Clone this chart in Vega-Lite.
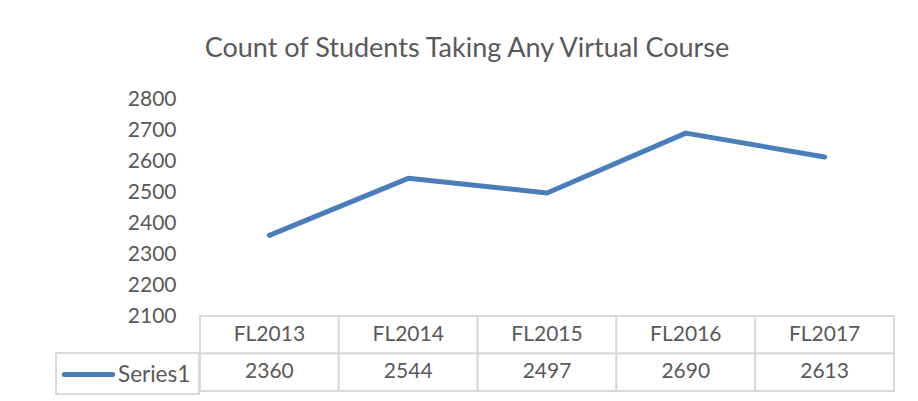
{
  "$schema": "https://vega.github.io/schema/vega-lite/v6.json",
  "padding": {"left": 55, "top": 35, "right": 0, "bottom": 0},
  "autosize": {"type": "pad"},
  "background": "white",
  "spacing": 0,
  "bounds": "flush",
  "title": {"text": "Count of Students Taking Any Virtual Course", "font": "Lato", "fontSize": 27, "fontWeight": "normal", "color": "#595959", "anchor": "middle", "frame": "bounds", "offset": 25, "dx": -8},
  "data": {"values": [
    {"year": "FL2013", "series": "Series1", "students": 2360},
    {"year": "FL2014", "series": "Series1", "students": 2544},
    {"year": "FL2015", "series": "Series1", "students": 2497},
    {"year": "FL2016", "series": "Series1", "students": 2690},
    {"year": "FL2017", "series": "Series1", "students": 2613}
  ]},
  "config": {"font": "Lato", "view": {"stroke": null}},
  "resolve": {"legend": {"color": "independent"}},
  "vconcat": [
    {
      "width": 694,
      "height": 217,
      "mark": {"type": "line", "strokeWidth": 5, "strokeCap": "round", "strokeJoin": "round"},
      "encoding": {
        "x": {"field": "year", "type": "ordinal", "sort": null, "scale": {"type": "point", "padding": 0.5}, "axis": null},
        "y": {"field": "students", "type": "quantitative", "scale": {"domain": [2100, 2800], "zero": false, "nice": false},
          "axis": {"values": [2100, 2200, 2300, 2400, 2500, 2600, 2700, 2800], "format": "d", "title": null, "grid": false, "domain": false, "ticks": false, "labelFont": "Lato", "labelFontSize": 21, "labelColor": "#595959", "labelPadding": 24, "minExtent": 144, "maxExtent": 144}},
        "color": {"field": "series", "type": "nominal", "scale": {"range": ["#4a7ebb"]}, "legend": null}
      }
    },
    {
      "width": 694,
      "height": 75,
      "encoding": {"x": {"field": "year", "type": "ordinal", "sort": null, "scale": {"type": "band", "paddingInner": 0, "paddingOuter": 0}, "axis": null}},
      "layer": [
        {"mark": {"type": "rect", "fill": "white", "stroke": "#d9d9d9", "strokeWidth": 2},
         "encoding": {"y": {"datum": "header", "type": "nominal", "scale": {"domain": ["header", "Series1"], "paddingInner": 0, "paddingOuter": 0}, "axis": null}}},
        {"mark": {"type": "rect", "fill": "white", "stroke": "#d9d9d9", "strokeWidth": 2},
         "encoding": {"y": {"datum": "Series1", "type": "nominal"}}},
        {"mark": {"type": "text", "fontSize": 21, "color": "#595959"},
         "encoding": {"y": {"datum": "header", "type": "nominal"}, "text": {"field": "year"}}},
        {"mark": {"type": "text", "fontSize": 21, "color": "#595959"},
         "encoding": {"y": {"datum": "Series1", "type": "nominal"}, "text": {"field": "students"}}},
        {"mark": {"type": "line", "opacity": 0, "strokeWidth": 5, "strokeCap": "round"},
         "encoding": {"y": {"datum": "Series1", "type": "nominal"},
           "color": {"field": "series", "type": "nominal", "scale": {"range": ["#4a7ebb"]},
             "legend": {"orient": "none", "legendX": -144, "legendY": 37, "title": null, "symbolType": "M-2.2,0H2.2", "symbolSize": 484, "symbolOffset": 11, "symbolStrokeWidth": 5, "symbolStrokeColor": "#4a7ebb", "symbolOpacity": 1, "labelFontSize": 22.5, "labelFont": "Lato", "labelColor": "#595959", "labelOffset": 16, "strokeColor": "#d9d9d9", "fillColor": "white", "padding": 8,
               "encode": {"legend": {"update": {"strokeWidth": {"value": 2}}}, "symbols": {"update": {"strokeCap": {"value": "round"}}}}}}}}
      ]
    }
  ]
}
